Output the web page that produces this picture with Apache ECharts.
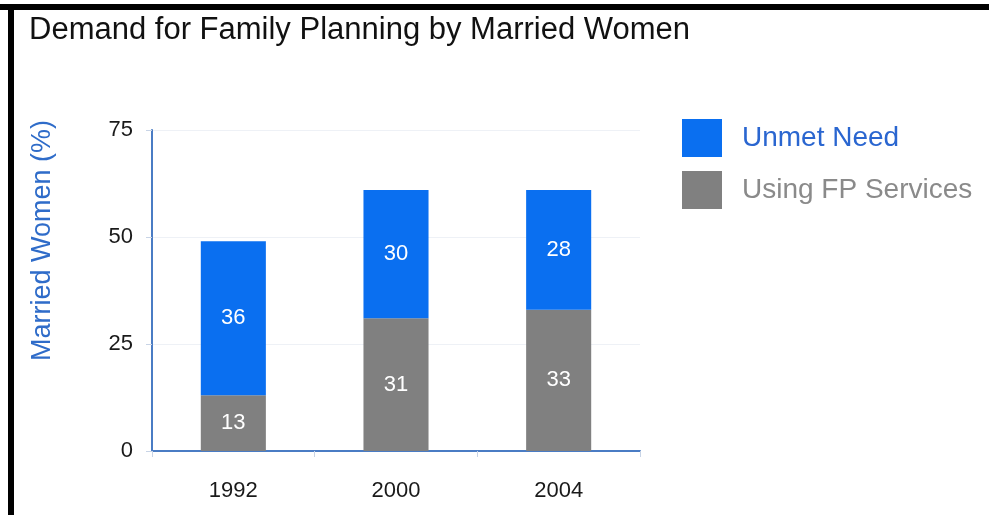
<!DOCTYPE html>
<html>
<head>
<meta charset="utf-8">
<script src="https://cdn.jsdelivr.net/npm/echarts@6/dist/echarts.min.js"></script>
<style>
html,body{margin:0;padding:0;background:#fff;}
#chart{width:989px;height:515px;}
</style>
</head>
<body>
<div id="chart"></div>
<script>
var categories = ['1992', '2000', '2004'];
var usingFP = [13, 31, 33];
var unmetNeed = [36, 30, 28];
var yTicks = [0, 25, 50, 75];

var chart = echarts.init(document.getElementById('chart'));
var fontFam = '"Liberation Sans", Arial, Helvetica, sans-serif';
var labelStyle = {show: true, position: 'inside', color: '#ffffff', fontSize: 22, fontFamily: fontFam};

chart.setOption({
  animation: false,
  backgroundColor: '#ffffff',
  title: {
    text: 'Demand for Family Planning by Married Women',
    left: 24, top: 10,
    textStyle: {fontFamily: fontFam, fontWeight: 'normal', fontSize: 31, color: '#111111'}
  },
  graphic: [
    {type: 'rect', shape: {x: 0, y: 4, width: 989, height: 6}, style: {fill: '#000000'}, silent: true},
    {type: 'rect', shape: {x: 8, y: 4, width: 6, height: 511}, style: {fill: '#000000'}, silent: true}
  ],
  legend: {
    orient: 'vertical',
    left: 677, top: 114,
    itemWidth: 40, itemHeight: 38,
    itemGap: 14,
    data: [
      {name: 'Unmet Need', textStyle: {color: '#2a66d0'}},
      {name: 'Using FP Services', textStyle: {color: '#8a8a8a'}}
    ],
    textStyle: {fontFamily: fontFam, fontSize: 28, padding: [0, 0, 0, 15]},
    icon: 'rect'
  },
  grid: {left: 152, right: 349, top: 130, bottom: 64},
  xAxis: {
    type: 'category',
    data: categories,
    axisLine: {show: true, lineStyle: {color: '#4a7cc4', width: 2}},
    axisTick: {show: true, length: 6, lineStyle: {color: '#c8d4e6'}},
    axisLabel: {color: '#1a1a1a', fontSize: 22, fontFamily: fontFam, margin: 29}
  },
  yAxis: {
    type: 'value',
    min: 0, max: 75, interval: 25,
    name: 'Married Women (%)',
    nameLocation: 'middle',
    nameGap: 96,
    nameTextStyle: {color: '#2f6cc9', fontSize: 27, fontFamily: fontFam, padding: [0, 0, 0, 100]},
    axisLine: {show: true, lineStyle: {color: '#4a7cc4', width: 2}},
    axisTick: {show: true, length: 6, lineStyle: {color: '#c8d4e6'}},
    axisLabel: {
      color: '#1a1a1a', fontSize: 22, fontFamily: fontFam, margin: 19,
      formatter: function (v) { return yTicks.indexOf(v) >= 0 ? String(v) : ''; }
    },
    splitLine: {show: true, lineStyle: {color: '#eef1f6', width: 1}}
  },
  series: [
    {
      name: 'Using FP Services', type: 'bar', stack: 'total',
      data: usingFP, barWidth: '40%',
      itemStyle: {color: '#808080'},
      label: labelStyle
    },
    {
      name: 'Unmet Need', type: 'bar', stack: 'total',
      data: unmetNeed, barWidth: '40%',
      itemStyle: {color: '#0a6ff0'},
      label: labelStyle
    }
  ]
});
</script>
</body>
</html>
